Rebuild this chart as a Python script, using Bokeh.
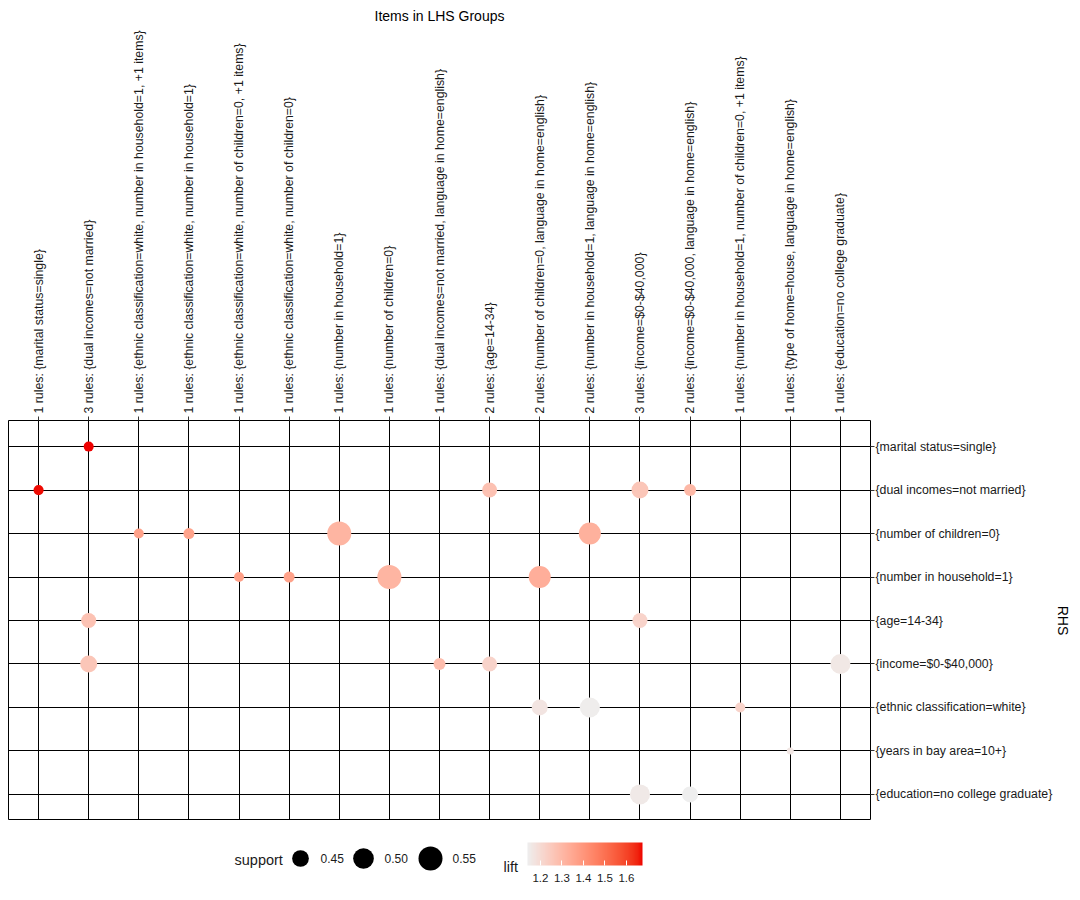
import numpy as np
from bokeh.plotting import figure
from bokeh.models import Range1d, FixedTicker, LinearColorMapper, ColorBar, ColumnDataSource, AllLabels
from bokeh.layouts import column
from bokeh.embed import file_html
from bokeh.resources import INLINE
from bokeh.core.properties import value
from bokeh.transform import transform

# ---------------- data ----------------
lhs_groups = [
    "1 rules: {marital status=single}",
    "3 rules: {dual incomes=not married}",
    "1 rules: {ethnic classification=white, number in household=1, +1 items}",
    "1 rules: {ethnic classification=white, number in household=1}",
    "1 rules: {ethnic classification=white, number of children=0, +1 items}",
    "1 rules: {ethnic classification=white, number of children=0}",
    "1 rules: {number in household=1}",
    "1 rules: {number of children=0}",
    "1 rules: {dual incomes=not married, language in home=english}",
    "2 rules: {age=14-34}",
    "2 rules: {number of children=0, language in home=english}",
    "2 rules: {number in household=1, language in home=english}",
    "3 rules: {income=$0-$40,000}",
    "2 rules: {income=$0-$40,000, language in home=english}",
    "1 rules: {number in household=1, number of children=0, +1 items}",
    "1 rules: {type of home=house, language in home=english}",
    "1 rules: {education=no college graduate}",
]
rhs_items = [
    "{marital status=single}",
    "{dual incomes=not married}",
    "{number of children=0}",
    "{number in household=1}",
    "{age=14-34}",
    "{income=$0-$40,000}",
    "{ethnic classification=white}",
    "{years in bay area=10+}",
    "{education=no college graduate}",
]
# each point: LHS group number (1-based), RHS item number (1-based), support, lift
point_lhs = [2, 1, 10, 13, 14, 3, 4, 7, 12, 5, 6, 8, 11, 2, 13, 2, 9, 10, 17, 11, 12, 15, 16, 13, 14]
point_rhs = [1, 2, 2, 2, 2, 3, 3, 3, 3, 4, 4, 4, 4, 5, 5, 6, 6, 6, 6, 7, 7, 7, 8, 9, 9]
point_support = [0.390, 0.391, 0.432, 0.453, 0.405, 0.390, 0.397, 0.550, 0.519, 0.390, 0.397, 0.551,
                 0.519, 0.432, 0.432, 0.453, 0.405, 0.432, 0.491, 0.442, 0.491, 0.390, 0.373, 0.491, 0.442]
point_lift = [1.675, 1.670, 1.275, 1.260, 1.300, 1.365, 1.360, 1.310, 1.320, 1.370, 1.365, 1.310,
              1.330, 1.270, 1.220, 1.260, 1.285, 1.220, 1.160, 1.170, 1.145, 1.220, 1.165, 1.155, 1.140]
legend_support = [0.45, 0.50, 0.55]
lift_ticks = [1.2, 1.3, 1.4, 1.5, 1.6]

# ---------------- styling helpers ----------------
FONT = "Liberation Sans"
TXT = "#1a1a1a"

def support_to_size(s):
    s = np.asarray(s, dtype=float)
    return np.sqrt(279.0 + 2980.0 * (s - 0.45))

def _hex_rgb(h):
    return np.array([int(h[i:i + 2], 16) for i in (1, 3, 5)]) / 255.0

_M = np.array([[0.4124564, 0.3575761, 0.1804375],
               [0.2126729, 0.7151522, 0.0721750],
               [0.0193339, 0.1191920, 0.9503041]])
_W = np.array([0.95047, 1.0, 1.08883])

def _to_lab(h):
    c = _hex_rgb(h)
    lin = np.where(c <= 0.04045, c / 12.92, ((c + 0.055) / 1.055) ** 2.4)
    xyz = _M @ lin / _W
    d = 6 / 29
    f = np.where(xyz > d ** 3, np.cbrt(xyz), xyz / (3 * d * d) + 4 / 29)
    return np.array([116 * f[1] - 16, 500 * (f[0] - f[1]), 200 * (f[1] - f[2])])

def _from_lab(lab):
    L, a, b = lab
    fy = (L + 16) / 116
    fx = fy + a / 500
    fz = fy - b / 200
    d = 6 / 29
    f = np.array([fx, fy, fz])
    xyz = np.where(f > d, f ** 3, 3 * d * d * (f - 4 / 29)) * _W
    lin = np.linalg.solve(_M, xyz)
    lin = np.clip(lin, 0, 1)
    c = np.where(lin <= 0.0031308, 12.92 * lin, 1.055 * lin ** (1 / 2.4) - 0.055)
    c = np.clip(np.round(c * 255), 0, 255).astype(int)
    return "#%02x%02x%02x" % tuple(c)

lo_lab, hi_lab = _to_lab("#EEEEEE"), _to_lab("#EE0000")
palette = [_from_lab(lo_lab + (hi_lab - lo_lab) * t) for t in np.linspace(0, 1, 256)]
lift_lo, lift_hi = min(point_lift), max(point_lift)
mapper = LinearColorMapper(palette=palette, low=lift_lo, high=lift_hi)

# ---------------- main matrix ----------------
n_lhs, n_rhs = len(lhs_groups), len(rhs_items)
src = ColumnDataSource(dict(
    x=point_lhs, y=point_rhs, lift=point_lift,
    size=support_to_size(point_support)))

p = figure(frame_width=862, frame_height=400,
           x_range=Range1d(0.4, n_lhs + 0.6), y_range=Range1d(n_rhs + 0.6, 0.4),
           x_axis_location="above", y_axis_location="right",
           output_backend="svg", toolbar_location=None,
           min_border_left=8, min_border_bottom=0, min_border_top=420, min_border_right=0,
           background_fill_color="white", border_fill_color="white")
p.outline_line_color = "black"
p.outline_line_width = 1
p.outline_line_alpha = 1

xt = FixedTicker(ticks=list(range(1, n_lhs + 1)))
yt = FixedTicker(ticks=list(range(1, n_rhs + 1)))
for ax, tk, labels in ((p.xaxis[0], xt, lhs_groups), (p.yaxis[0], yt, rhs_items)):
    ax.ticker = tk
    ax.major_label_overrides = {i + 1: lab for i, lab in enumerate(labels)}
    ax.major_tick_in = 0
    ax.major_tick_out = 4
    ax.major_tick_line_color = "#333333"
    ax.minor_tick_line_color = None
    ax.axis_line_color = None
    ax.major_label_text_font = FONT
    ax.major_label_text_font_size = "12.3px"
    ax.major_label_text_color = TXT
    ax.axis_label_text_font = FONT
    ax.axis_label_text_font_size = "14px"
    ax.axis_label_text_font_style = "normal"
    ax.axis_label_text_color = "black"

p.xaxis.major_label_orientation = "vertical"
p.xaxis.major_label_standoff = 3
p.xaxis.axis_label = "Items in LHS Groups"
p.xaxis.axis_label_standoff = 3
p.yaxis.major_label_standoff = 1
p.yaxis.axis_label = "RHS"
p.yaxis.axis_label_standoff = 0

p.xgrid.ticker = xt
p.ygrid.ticker = yt
for g in (p.xgrid[0], p.ygrid[0]):
    g.grid_line_color = "black"
    g.grid_line_width = 1
    g.grid_line_alpha = 1

p.scatter("x", "y", size="size", source=src,
          fill_color=transform("lift", mapper), line_color=None)

# ---------------- legend strip (data units = page pixels) ----------------
LX0, LY0, LW, LH = 8, 820, 1064, 72
lg = figure(frame_width=LW, frame_height=LH,
            x_range=Range1d(LX0, LX0 + LW), y_range=Range1d(LY0 + LH, LY0),
            x_axis_type=None, y_axis_type=None,
            output_backend="svg", toolbar_location=None,
            min_border_left=0, min_border_right=0, min_border_top=0, min_border_bottom=0,
            background_fill_color="white", border_fill_color="white")
lg.grid.visible = False
lg.outline_line_color = None

lg.text(x=[234], y=[859], text=["support"], text_font=value(FONT), text_font_size="14.5px",
        text_baseline="middle", text_align="left", text_color=TXT)
lg.scatter(x=[300, 363, 430], y=[858, 858, 858], size=support_to_size(legend_support),
           fill_color="black", line_color=None)
lg.text(x=[320, 384, 452], y=[858, 858, 858], text=["%.2f" % s for s in legend_support],
        text_font=value(FONT), text_font_size="12px", text_baseline="middle",
        text_align="left", text_color=TXT)
lg.text(x=[503], y=[866], text=["lift"], text_font=value(FONT), text_font_size="14.5px",
        text_baseline="middle", text_align="left", text_color=TXT)

BAR_X, BAR_W, BAR_TOP, BAR_H = 527, 115, 843, 23
cb = ColorBar(color_mapper=mapper, orientation="horizontal", width=BAR_W, height=BAR_H,
              location=(BAR_X - LX0, 8), padding=0, title=None,
              ticker=FixedTicker(ticks=lift_ticks), major_label_policy=AllLabels(),
              major_tick_in=5, major_tick_out=0, major_tick_line_color="white",
              minor_tick_line_color=None, bar_line_color=None,
              label_standoff=8, major_label_text_font=FONT, major_label_text_font_size="11.5px",
              major_label_text_color=TXT, background_fill_color=None, border_line_color=None)
lg.add_layout(cb, "center")
# white ticks along the top edge of the bar, as in the original guide
tick_px = [BAR_X + (t - lift_lo) / (lift_hi - lift_lo) * BAR_W for t in lift_ticks]
lg.segment(x0=tick_px, x1=tick_px, y0=[BAR_TOP] * len(tick_px), y1=[BAR_TOP + 5] * len(tick_px),
           line_color="white", line_width=1)

layout = column(p, lg)
open("out.html", "w").write(file_html(layout, INLINE))
